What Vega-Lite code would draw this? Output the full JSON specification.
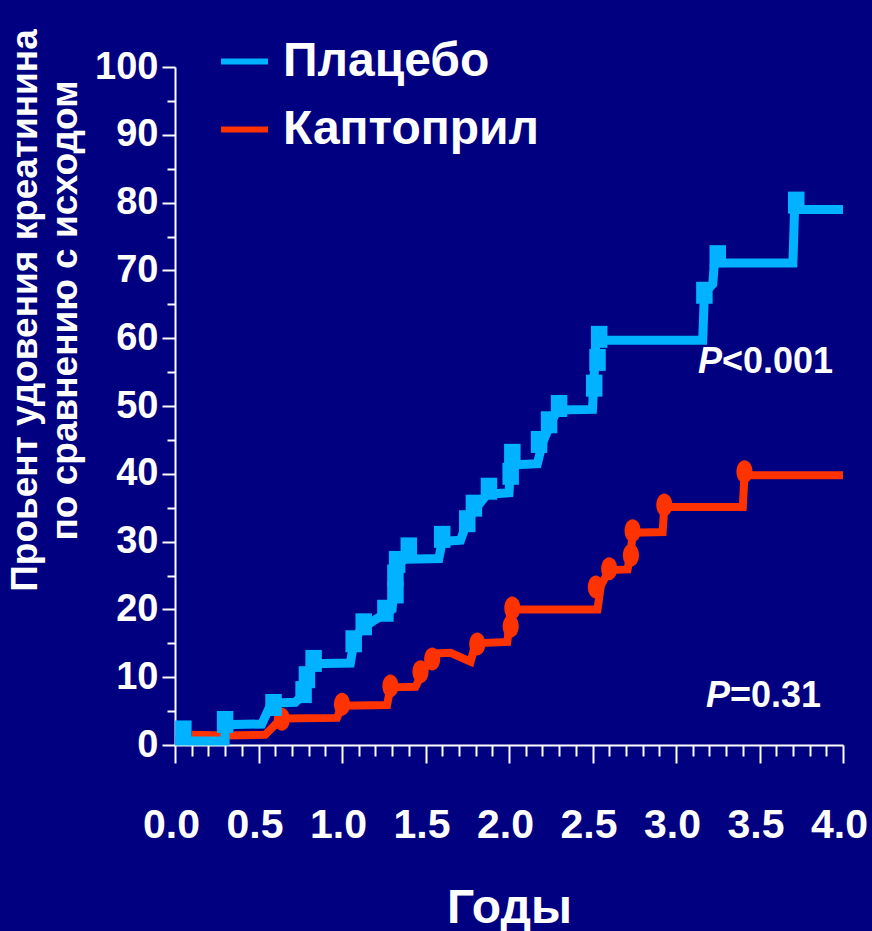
{
  "$schema": "https://vega.github.io/schema/vega-lite/v6.json",
  "width": 668,
  "height": 678,
  "autosize": {"type": "none"},
  "padding": {"left": 175, "top": 67, "right": 29, "bottom": 186},
  "background": "#000080",
  "config": {
    "view": {"stroke": null},
    "font": "Liberation Sans",
    "axis": {"grid": false, "domainColor": "white", "tickColor": "white", "labelColor": "white", "titleColor": "white", "domainWidth": 2, "tickWidth": 2, "labelFont": "Liberation Sans", "labelFontWeight": "bold", "titleFont": "Liberation Sans", "titleFontWeight": "bold"}
  },
  "datasets": {
    "curves": [
      {"series": "Каптоприл", "i": 1, "x": 0.1, "y": 1.5},
      {"series": "Каптоприл", "i": 2, "x": 0.3, "y": 1.4},
      {"series": "Каптоприл", "i": 3, "x": 0.54, "y": 1.5},
      {"series": "Каптоприл", "i": 4, "x": 0.6, "y": 3.0},
      {"series": "Каптоприл", "i": 5, "x": 0.64, "y": 3.9},
      {"series": "Каптоприл", "i": 6, "x": 0.97, "y": 4.0},
      {"series": "Каптоприл", "i": 7, "x": 1.0, "y": 5.8},
      {"series": "Каптоприл", "i": 8, "x": 1.27, "y": 5.9},
      {"series": "Каптоприл", "i": 9, "x": 1.29, "y": 8.5},
      {"series": "Каптоприл", "i": 10, "x": 1.44, "y": 8.6},
      {"series": "Каптоприл", "i": 11, "x": 1.5, "y": 11.5},
      {"series": "Каптоприл", "i": 12, "x": 1.56, "y": 13.5},
      {"series": "Каптоприл", "i": 13, "x": 1.65, "y": 13.6},
      {"series": "Каптоприл", "i": 14, "x": 1.77, "y": 12.3},
      {"series": "Каптоприл", "i": 15, "x": 1.8, "y": 15.0},
      {"series": "Каптоприл", "i": 16, "x": 1.99, "y": 15.2},
      {"series": "Каптоприл", "i": 17, "x": 2.01, "y": 20.0},
      {"series": "Каптоприл", "i": 18, "x": 2.53, "y": 20.0},
      {"series": "Каптоприл", "i": 19, "x": 2.55, "y": 23.5},
      {"series": "Каптоприл", "i": 20, "x": 2.6, "y": 25.8},
      {"series": "Каптоприл", "i": 21, "x": 2.71, "y": 25.9},
      {"series": "Каптоприл", "i": 22, "x": 2.73, "y": 28.5},
      {"series": "Каптоприл", "i": 23, "x": 2.74, "y": 31.3},
      {"series": "Каптоприл", "i": 24, "x": 2.92, "y": 31.4},
      {"series": "Каптоприл", "i": 25, "x": 2.93, "y": 35.1},
      {"series": "Каптоприл", "i": 26, "x": 3.4, "y": 35.1},
      {"series": "Каптоприл", "i": 27, "x": 3.41, "y": 39.8},
      {"series": "Каптоприл", "i": 28, "x": 4.0, "y": 39.8},
      {"series": "Плацебо", "i": 1, "x": 0.0, "y": 0.6},
      {"series": "Плацебо", "i": 2, "x": 0.3, "y": 0.6},
      {"series": "Плацебо", "i": 3, "x": 0.3, "y": 3.0},
      {"series": "Плацебо", "i": 4, "x": 0.52, "y": 3.1},
      {"series": "Плацебо", "i": 5, "x": 0.57, "y": 5.8},
      {"series": "Плацебо", "i": 6, "x": 0.6, "y": 6.2},
      {"series": "Плацебо", "i": 7, "x": 0.72, "y": 6.3},
      {"series": "Плацебо", "i": 8, "x": 0.77, "y": 7.5},
      {"series": "Плацебо", "i": 9, "x": 0.79, "y": 9.8},
      {"series": "Плацебо", "i": 10, "x": 0.82, "y": 12.0},
      {"series": "Плацебо", "i": 11, "x": 1.05, "y": 12.1},
      {"series": "Плацебо", "i": 12, "x": 1.07, "y": 15.0},
      {"series": "Плацебо", "i": 13, "x": 1.11, "y": 17.0},
      {"series": "Плацебо", "i": 14, "x": 1.2, "y": 18.5},
      {"series": "Плацебо", "i": 15, "x": 1.3, "y": 20.0},
      {"series": "Плацебо", "i": 16, "x": 1.32, "y": 26.5},
      {"series": "Плацебо", "i": 17, "x": 1.38, "y": 27.4},
      {"series": "Плацебо", "i": 18, "x": 1.58, "y": 27.5},
      {"series": "Плацебо", "i": 19, "x": 1.6, "y": 30.0},
      {"series": "Плацебо", "i": 20, "x": 1.71, "y": 30.2},
      {"series": "Плацебо", "i": 21, "x": 1.75, "y": 33.0},
      {"series": "Плацебо", "i": 22, "x": 1.82, "y": 35.5},
      {"series": "Плацебо", "i": 23, "x": 1.87, "y": 37.0},
      {"series": "Плацебо", "i": 24, "x": 2.0, "y": 37.2},
      {"series": "Плацебо", "i": 25, "x": 2.01, "y": 41.3},
      {"series": "Плацебо", "i": 26, "x": 2.17, "y": 41.5},
      {"series": "Плацебо", "i": 27, "x": 2.2, "y": 44.5},
      {"series": "Плацебо", "i": 28, "x": 2.25, "y": 47.5},
      {"series": "Плацебо", "i": 29, "x": 2.29, "y": 49.4},
      {"series": "Плацебо", "i": 30, "x": 2.5, "y": 49.5},
      {"series": "Плацебо", "i": 31, "x": 2.52, "y": 59.7},
      {"series": "Плацебо", "i": 32, "x": 3.16, "y": 59.7},
      {"series": "Плацебо", "i": 33, "x": 3.17, "y": 66.7},
      {"series": "Плацебо", "i": 34, "x": 3.22, "y": 68.0},
      {"series": "Плацебо", "i": 35, "x": 3.23, "y": 71.1},
      {"series": "Плацебо", "i": 36, "x": 3.7, "y": 71.1},
      {"series": "Плацебо", "i": 37, "x": 3.71, "y": 79.0},
      {"series": "Плацебо", "i": 38, "x": 4.0, "y": 79.0}
    ],
    "censor": [
      {"series": "Каптоприл", "x": 0.64, "y": 3.8},
      {"series": "Каптоприл", "x": 1.0, "y": 6.0},
      {"series": "Каптоприл", "x": 1.29, "y": 8.7},
      {"series": "Каптоприл", "x": 1.47, "y": 10.8},
      {"series": "Каптоприл", "x": 1.54, "y": 12.7},
      {"series": "Каптоприл", "x": 1.81, "y": 14.9},
      {"series": "Каптоприл", "x": 2.01, "y": 17.5},
      {"series": "Каптоприл", "x": 2.02, "y": 20.2},
      {"series": "Каптоприл", "x": 2.52, "y": 23.3},
      {"series": "Каптоприл", "x": 2.6, "y": 26.0},
      {"series": "Каптоприл", "x": 2.73, "y": 28.0},
      {"series": "Каптоприл", "x": 2.74, "y": 31.6},
      {"series": "Каптоприл", "x": 2.93, "y": 35.4},
      {"series": "Каптоприл", "x": 3.41, "y": 40.3},
      {"series": "Плацебо", "x": 0.05, "y": 2.0},
      {"series": "Плацебо", "x": 0.3, "y": 3.4},
      {"series": "Плацебо", "x": 0.59, "y": 5.9},
      {"series": "Плацебо", "x": 0.77, "y": 7.8},
      {"series": "Плацебо", "x": 0.79, "y": 10.0},
      {"series": "Плацебо", "x": 0.83, "y": 12.4},
      {"series": "Плацебо", "x": 1.07, "y": 15.3},
      {"series": "Плацебо", "x": 1.13, "y": 17.8},
      {"series": "Плацебо", "x": 1.26, "y": 19.8},
      {"series": "Плацебо", "x": 1.32, "y": 22.5},
      {"series": "Плацебо", "x": 1.32, "y": 25.0},
      {"series": "Плацебо", "x": 1.33, "y": 27.0},
      {"series": "Плацебо", "x": 1.4, "y": 29.0},
      {"series": "Плацебо", "x": 1.6, "y": 30.7},
      {"series": "Плацебо", "x": 1.75, "y": 33.0},
      {"series": "Плацебо", "x": 1.79, "y": 35.3},
      {"series": "Плацебо", "x": 1.88, "y": 37.8},
      {"series": "Плацебо", "x": 2.01, "y": 40.0},
      {"series": "Плацебо", "x": 2.02, "y": 42.8},
      {"series": "Плацебо", "x": 2.18, "y": 44.7},
      {"series": "Плацебо", "x": 2.24, "y": 47.6},
      {"series": "Плацебо", "x": 2.3, "y": 50.0},
      {"series": "Плацебо", "x": 2.51, "y": 53.0},
      {"series": "Плацебо", "x": 2.53, "y": 56.8},
      {"series": "Плацебо", "x": 2.54, "y": 60.2},
      {"series": "Плацебо", "x": 3.17, "y": 66.7},
      {"series": "Плацебо", "x": 3.25, "y": 72.1},
      {"series": "Плацебо", "x": 3.72, "y": 80.0}
    ],
    "pvals": [
      {"x": 3.275, "y": 54.9, "p": "P", "rest": "<0.001"},
      {"x": 3.323, "y": 5.6, "p": "P", "rest": "=0.31"}
    ]
  },
  "resolve": {"axis": {"x": "independent", "y": "independent"}},
  "layer": [
    {
      "data": {"name": "curves"},
      "transform": [{"filter": "datum.series == 'Каптоприл'"}],
      "mark": {"type": "line", "strokeWidth": 8, "strokeJoin": "miter", "strokeCap": "butt"},
      "encoding": {
        "x": {"field": "x", "type": "quantitative", "scale": {"domain": [0, 4], "nice": false},
          "axis": {"orient": "bottom", "values": [0, 0.5, 1, 1.5, 2, 2.5, 3, 3.5, 4], "format": ".1f", "tickSize": 18, "labelFontSize": 41, "labelPadding": 42, "labelBaseline": "top", "labelFlush": false, "labelOverlap": false, "labelBound": false, "labelOffset": -4,
            "title": "Годы", "titleFontSize": 48, "titleY": 139, "titleBaseline": "top"}},
        "y": {"field": "y", "type": "quantitative", "scale": {"domain": [0, 100], "nice": false},
          "axis": {"orient": "left", "values": [0, 10, 20, 30, 40, 50, 60, 70, 80, 90, 100], "tickSize": 13, "labelFontSize": 38, "labelPadding": 4, "labelOverlap": false, "labelFlush": false, "labelBound": false,
            "title": ["Проьент удовения креатинина", "по сравнению с исходом"], "titleFontSize": 37, "titleLineHeight": 40, "titleAngle": -90, "titleAlign": "center", "titleBaseline": "middle", "titleX": -150, "titleY": 243}},
        "color": {"field": "series", "type": "nominal", "scale": {"domain": ["Плацебо", "Каптоприл"], "range": ["#00b2ff", "#ff3300"]},
          "legend": {"orient": "none", "legendX": 43, "legendY": -32, "title": null, "symbolType": "stroke", "symbolSize": 2209, "symbolStrokeWidth": 6, "labelFontSize": 48, "labelFont": "Liberation Sans", "labelFontWeight": "bold", "labelColor": "white", "labelLimit": 400, "labelOffset": 12, "rowPadding": 17, "padding": 0,
            "labelExpr": "datum.value == 'Плацебо' ? '\\u00a0Плацебо' : datum.label"}},
        "order": {"field": "i", "type": "quantitative"}
      }
    },
    {
      "data": {"name": "curves"},
      "transform": [{"filter": "datum.series == 'Плацебо'"}],
      "mark": {"type": "line", "strokeWidth": 9, "strokeJoin": "miter", "strokeCap": "butt"},
      "encoding": {
        "x": {"field": "x", "type": "quantitative", "scale": {"domain": [0, 4], "nice": false},
          "axis": {"orient": "bottom", "values": [0.1, 0.2, 0.3, 0.4, 0.6, 0.7, 0.8, 0.9, 1.1, 1.2, 1.3, 1.4, 1.6, 1.7, 1.8, 1.9, 2.1, 2.2, 2.3, 2.4, 2.6, 2.7, 2.8, 2.9, 3.1, 3.2, 3.3, 3.4, 3.6, 3.7, 3.8, 3.9], "tickSize": 11, "labels": false, "domain": false, "title": null}},
        "y": {"field": "y", "type": "quantitative", "scale": {"domain": [0, 100], "nice": false},
          "axis": {"orient": "left", "values": [5, 15, 25, 35, 45, 55, 65, 75, 85, 95], "tickSize": 8, "labels": false, "domain": false, "title": null}},
        "color": {"field": "series", "type": "nominal", "scale": {"domain": ["Плацебо", "Каптоприл"], "range": ["#00b2ff", "#ff3300"]},
          "legend": {"orient": "none", "legendX": 43, "legendY": -32, "title": null, "symbolType": "stroke", "symbolSize": 2209, "symbolStrokeWidth": 6, "labelFontSize": 48, "labelFont": "Liberation Sans", "labelFontWeight": "bold", "labelColor": "white", "labelLimit": 400, "labelOffset": 12, "rowPadding": 17, "padding": 0,
            "labelExpr": "datum.value == 'Плацебо' ? '\\u00a0Плацебо' : datum.label"}},
        "order": {"field": "i", "type": "quantitative"}
      }
    },
    {
      "data": {"name": "censor"},
      "transform": [{"filter": "datum.series == 'Каптоприл'"}],
      "mark": {"type": "point", "filled": true, "opacity": 1, "color": "#ff3300", "size": 529, "shape": "M -0.7 0 A 0.7 1 0 1 0 0.7 0 A 0.7 1 0 1 0 -0.7 0 Z"},
      "encoding": {
        "x": {"field": "x", "type": "quantitative", "axis": null},
        "y": {"field": "y", "type": "quantitative", "axis": null}
      }
    },
    {
      "data": {"name": "censor"},
      "transform": [{"filter": "datum.series == 'Плацебо'"}],
      "mark": {"type": "point", "filled": true, "opacity": 1, "color": "#00b2ff", "size": 484, "shape": "M -0.75 -1 L 0.75 -1 L 0.75 1 L -0.75 1 Z"},
      "encoding": {
        "x": {"field": "x", "type": "quantitative", "axis": null},
        "y": {"field": "y", "type": "quantitative", "axis": null}
      }
    },
    {
      "data": {"name": "pvals"},
      "mark": {"type": "text", "align": "right", "baseline": "alphabetic", "fontSize": 36, "fontWeight": "bold", "fontStyle": "italic", "font": "Liberation Sans", "color": "white"},
      "encoding": {
        "x": {"field": "x", "type": "quantitative", "axis": null},
        "y": {"field": "y", "type": "quantitative", "axis": null},
        "text": {"field": "p"}
      }
    },
    {
      "data": {"name": "pvals"},
      "mark": {"type": "text", "align": "left", "baseline": "alphabetic", "fontSize": 36, "fontWeight": "bold", "font": "Liberation Sans", "color": "white"},
      "encoding": {
        "x": {"field": "x", "type": "quantitative", "axis": null},
        "y": {"field": "y", "type": "quantitative", "axis": null},
        "text": {"field": "rest"}
      }
    }
  ]
}
